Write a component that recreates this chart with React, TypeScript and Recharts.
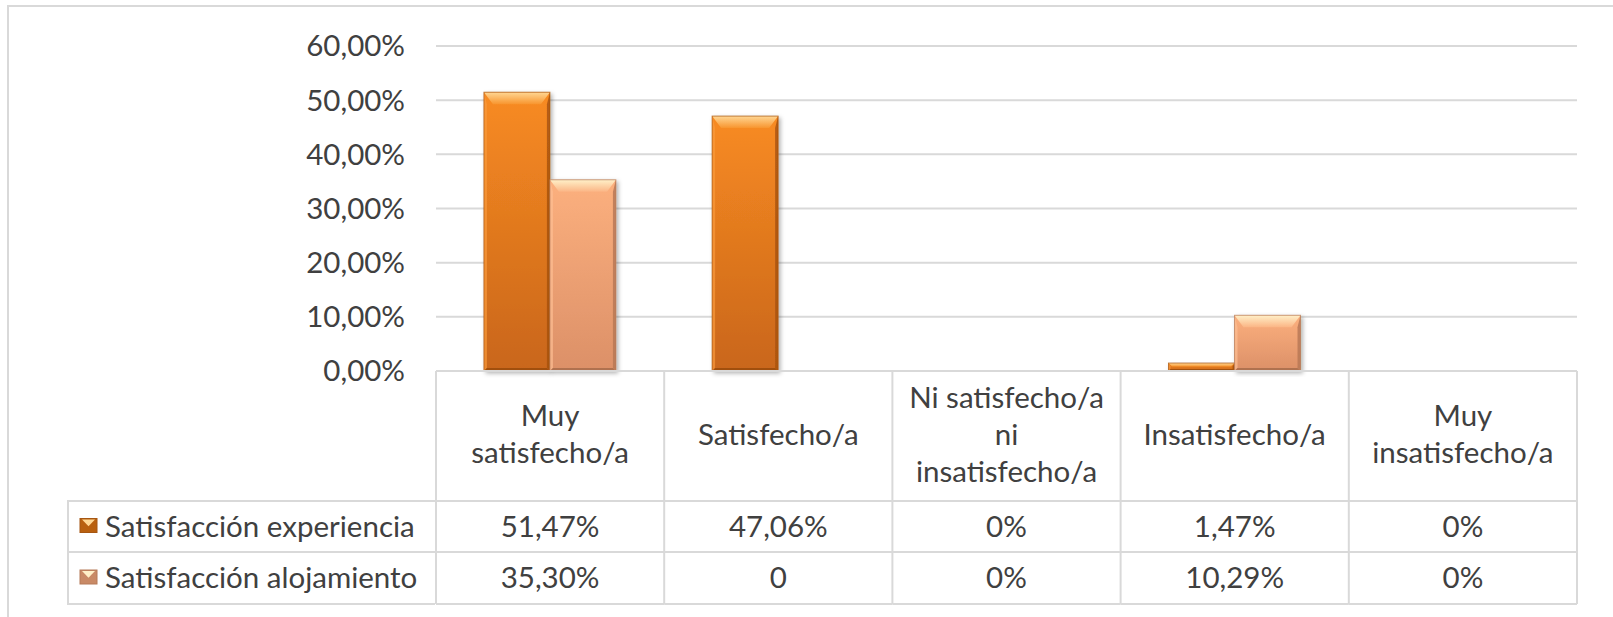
import React from "react";
import { BarChart, Bar, XAxis, YAxis, CartesianGrid, Legend } from "recharts";

// ---- data ----
const categories = [
  "Muy\nsatisfecho/a",
  "Satisfecho/a",
  "Ni satisfecho/a\nni\ninsatisfecho/a",
  "Insatisfecho/a",
  "Muy\ninsatisfecho/a",
];
const experiencia = [51.47, 47.06, 0, 1.47, 0];
const alojamiento = [35.3, 0, 0, 10.29, 0];
const experienciaLabels = ["51,47%", "47,06%", "0%", "1,47%", "0%"];
const alojamientoLabels = ["35,30%", "0", "0%", "10,29%", "0%"];
const seriesKeys = ["exp", "alo"];
const seriesNames = ["Satisfacción experiencia", "Satisfacción alojamiento"];
const yTicks = [0, 10, 20, 30, 40, 50, 60];

const data = categories.map((c, i) => ({
  name: c,
  exp: experiencia[i],
  alo: alojamiento[i],
}));
const rowLabels = [experienciaLabels, alojamientoLabels];

// ---- layout ----
const W = 1613;
const H = 617;
const PLOT_LEFT = 436;
const PLOT_RIGHT = 1577;
const PLOT_TOP = 46;
const AXIS_Y = 371;
const Y_AXIS_W = 100;
const BAND = (PLOT_RIGHT - PLOT_LEFT) / categories.length;
const HEADER_BOTTOM = 501;
const ROW1_BOTTOM = 552;
const ROW2_BOTTOM = 604;
const TABLE_LEFT = 68;
const FONT = "Lato, 'Open Sans', sans-serif";
const FS = 29.5;
const TEXT = "#404040";
const LINE = "#d9d9d9";

const PAL = [
  {
    id: "exp",
    top: "#f88b22",
    bottom: "#c9661b",
    capTop: "#ffd794",
    capBottom: "#f8952e",
    left: "#f99a3c",
    right: "#a9540f",
    bottomEdge: "#9a4c0e",
    stroke: "#a65612",
    swatch: "#b9600f",
  },
  {
    id: "alo",
    top: "#fcb07e",
    bottom: "#dc9068",
    capTop: "#fff0c8",
    capBottom: "#fbb585",
    left: "#fdbf94",
    right: "#b87856",
    bottomEdge: "#a86c4c",
    stroke: "#b57a58",
    swatch: "#c98a66",
  },
];

function BevelBar(props: any) {
  const { x, y, width, height, pal } = props;
  if (!height || height <= 0.5 || !width) return <g />;
  const p = PAL[pal];
  const w = width;
  const h = height;
  const bv = Math.min(12, h * 0.45);
  const bh = Math.min(9, w * 0.15, bv);
  const s = Math.min(3, h * 0.25);
  return (
    <g filter="url(#barShadow)">
      <rect x={x} y={y} width={w} height={h} fill={`url(#grad-${p.id})`} />
      <polygon
        points={`${x},${y} ${x + s},${y + bv} ${x + s},${y + h - s} ${x},${y + h}`}
        fill={p.left}
        opacity={0.7}
      />
      <polygon
        points={`${x + w},${y} ${x + w - s},${y + bv} ${x + w - s},${y + h - s} ${x + w},${y + h}`}
        fill={p.right}
        opacity={0.85}
      />
      <polygon
        points={`${x},${y + h} ${x + s},${y + h - s} ${x + w - s},${y + h - s} ${x + w},${y + h}`}
        fill={p.bottomEdge}
        opacity={0.85}
      />
      <polygon
        points={`${x},${y} ${x + w},${y} ${x + w - bh},${y + bv} ${x + bh},${y + bv}`}
        fill={`url(#cap-${p.id})`}
      />
      <rect x={x} y={y} width={w} height={h} fill="none" stroke={p.stroke} strokeWidth={1} opacity={0.7} />
    </g>
  );
}

function TableTick(props: any) {
  const { x, index } = props;
  const label: string = categories[index] ?? "";
  const lines = label.split("\n");
  const left = x - BAND / 2;
  const right = x + BAND / 2;
  const headerMid = (AXIS_Y + HEADER_BOTTOM) / 2 - 1.5;
  const lh = 37;
  const rowMids = [(HEADER_BOTTOM + ROW1_BOTTOM) / 2, (ROW1_BOTTOM + ROW2_BOTTOM) / 2];
  return (
    <g>
      <line x1={left} x2={left} y1={AXIS_Y} y2={ROW2_BOTTOM} stroke={LINE} strokeWidth={2} />
      {index === categories.length - 1 && (
        <line x1={right} x2={right} y1={AXIS_Y} y2={ROW2_BOTTOM} stroke={LINE} strokeWidth={2} />
      )}
      {[HEADER_BOTTOM, ROW1_BOTTOM, ROW2_BOTTOM].map((yy) => (
        <line key={yy} x1={left} x2={right} y1={yy} y2={yy} stroke={LINE} strokeWidth={2} />
      ))}
      <text textAnchor="middle" fontFamily={FONT} fontSize={FS} fill={TEXT}>
        {lines.map((ln, i) => (
          <tspan key={i} x={x} y={headerMid + (i - (lines.length - 1) / 2) * lh + FS * 0.35}>
            {ln}
          </tspan>
        ))}
      </text>
      {rowLabels.map((row, r) => (
        <text
          key={r}
          x={x}
          y={rowMids[r] + FS * 0.35}
          textAnchor="middle"
          fontFamily={FONT}
          fontSize={FS}
          fill={TEXT}
        >
          {row[index]}
        </text>
      ))}
    </g>
  );
}

function Swatch({ pal, x, y }: { pal: number; x: number; y: number }) {
  const p = PAL[pal];
  const w = 17;
  const h = 14;
  return (
    <g>
      <rect x={x} y={y} width={w} height={h} fill={p.swatch} />
      <polygon points={`${x + 2},${y + 1} ${x + w - 2},${y + 1} ${x + w / 2},${y + h * 0.55}`} fill={p.capTop} />
      <rect x={x} y={y} width={w} height={h} fill="none" stroke={p.stroke} strokeWidth={1} />
    </g>
  );
}

function LegendTable(props: any) {
  const payload: any[] = props.payload || [];
  const ordered = seriesKeys
    .map((k) => payload.find((e: any) => e.dataKey === k))
    .filter(Boolean);
  const tw = PLOT_LEFT - TABLE_LEFT;
  const th = ROW2_BOTTOM - HEADER_BOTTOM + 2;
  const rows = [0, ROW1_BOTTOM - HEADER_BOTTOM, ROW2_BOTTOM - HEADER_BOTTOM];
  return (
    <svg width={tw + 2} height={th} style={{ display: "block", overflow: "visible" }}>
      <line x1={1} x2={1} y1={0} y2={rows[2]} stroke={LINE} strokeWidth={2} />
      {rows.map((ry) => (
        <line key={ry} x1={0} x2={tw} y1={ry} y2={ry} stroke={LINE} strokeWidth={2} />
      ))}
      {ordered.map((entry: any, i: number) => {
        const mid = (rows[i] + rows[i + 1]) / 2;
        const pal = seriesKeys.indexOf(entry.dataKey);
        return (
          <g key={i}>
            <Swatch pal={pal} x={13} y={mid - 8} />
            <text x={38} y={mid + FS * 0.35} fontFamily={FONT} fontSize={FS} fill={TEXT}>
              {entry.value}
            </text>
          </g>
        );
      })}
    </svg>
  );
}

const fmt = (v: number) => v.toFixed(2).replace(".", ",") + "%";

export default function App() {
  return (
    <div
      style={{
        position: "absolute",
        left: 0,
        top: 0,
        width: W,
        height: H,
        overflow: "hidden",
        background: "#fff",
      }}
    >
      <div
        style={{
          position: "absolute",
          left: 7,
          top: 5,
          width: W + 50,
          height: H + 50,
          border: `2px solid ${LINE}`,
        }}
      />
      <div style={{ position: "absolute", left: 0, top: 0 }}>
        <BarChart
          width={W}
          height={H}
          data={data}
          margin={{ top: PLOT_TOP, right: W - PLOT_RIGHT, bottom: 0, left: PLOT_LEFT - Y_AXIS_W }}
          barCategoryGap="21%"
          barGap={0}
        >
          <defs>
            {PAL.map((p) => (
              <linearGradient key={p.id} id={`grad-${p.id}`} x1="0" y1="0" x2="0" y2="1">
                <stop offset="0%" stopColor={p.top} />
                <stop offset="100%" stopColor={p.bottom} />
              </linearGradient>
            ))}
            {PAL.map((p) => (
              <linearGradient key={p.id + "c"} id={`cap-${p.id}`} x1="0" y1="0" x2="0" y2="1">
                <stop offset="0%" stopColor={p.capTop} />
                <stop offset="100%" stopColor={p.capBottom} />
              </linearGradient>
            ))}
            <filter id="barShadow" x="-10%" y="-5%" width="125%" height="115%">
              <feDropShadow dx="2" dy="2" stdDeviation="2" floodColor="#000" floodOpacity="0.3" />
            </filter>
          </defs>
          <CartesianGrid vertical={false} stroke={LINE} strokeWidth={2} />
          <XAxis
            dataKey="name"
            height={H - AXIS_Y}
            interval={0}
            tickLine={false}
            tickSize={0}
            tickMargin={0}
            axisLine={{ stroke: LINE, strokeWidth: 2 }}
            tick={<TableTick />}
          />
          <YAxis
            width={Y_AXIS_W}
            domain={[0, 60]}
            ticks={yTicks}
            tickFormatter={fmt}
            axisLine={false}
            tickLine={false}
            tickSize={0}
            tickMargin={31}
            tick={{ fontFamily: FONT, fontSize: FS, fill: TEXT }}
          />
          <Legend
            layout="horizontal"
            verticalAlign="middle"
            align="center"
            wrapperStyle={{ left: TABLE_LEFT - 1, top: HEADER_BOTTOM, width: PLOT_LEFT - TABLE_LEFT + 2 }}
            content={<LegendTable />}
          />
          <Bar
            dataKey="exp"
            name={seriesNames[0]}
            fill="#f0841f"
            isAnimationActive={false}
            shape={(p: any) => <BevelBar {...p} pal={0} />}
          />
          <Bar
            dataKey="alo"
            name={seriesNames[1]}
            fill="#f5a474"
            isAnimationActive={false}
            shape={(p: any) => <BevelBar {...p} pal={1} />}
          />
        </BarChart>
      </div>
    </div>
  );
}
